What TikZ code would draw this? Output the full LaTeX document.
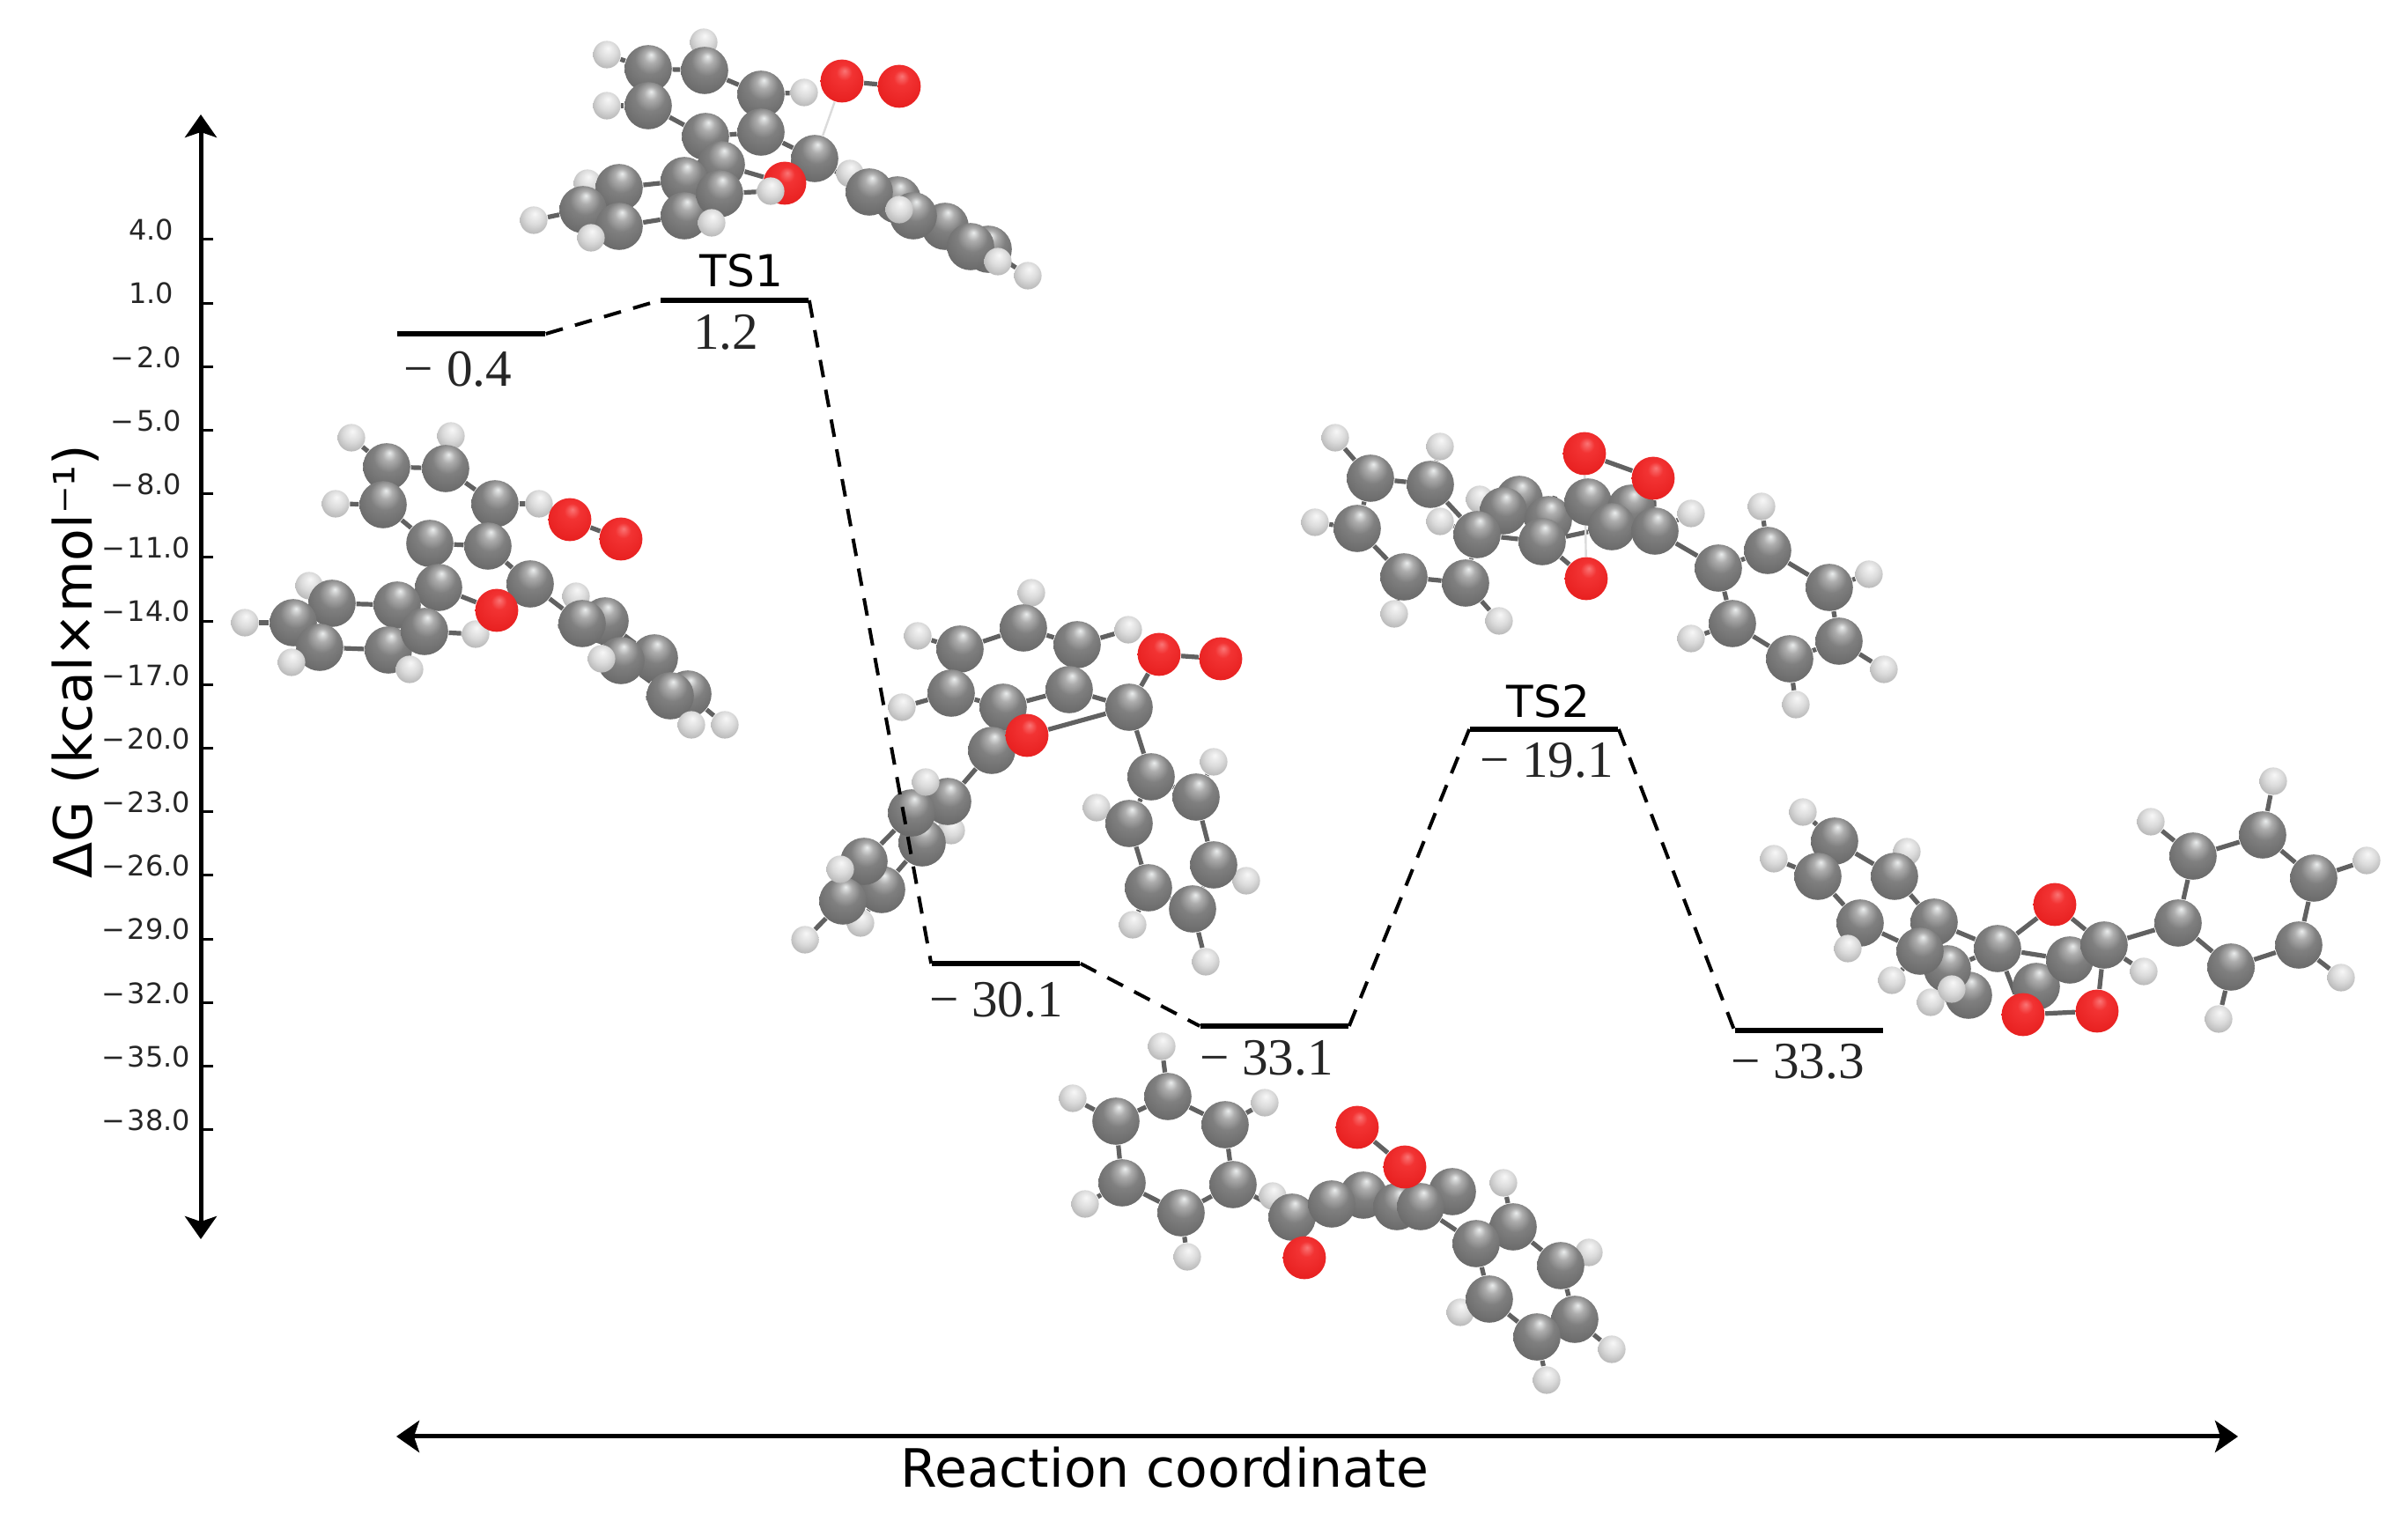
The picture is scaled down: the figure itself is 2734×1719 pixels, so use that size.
\documentclass[tikz,border=0pt]{standalone}
\usepackage{fontspec}
\setmainfont{DejaVu Sans}
\newfontfamily\valfont{Liberation Serif}
\usetikzlibrary{arrows.meta}

\pgfdeclarelayer{bondlayer}
\pgfsetlayers{bondlayer,main}

\pgfdeclareradialshading{carbonball}{\pgfpoint{3bp}{15bp}}{rgb(0bp)=(.92,.93,.93);rgb(7bp)=(.68,.68,.68);rgb(16bp)=(.50,.50,.50);rgb(30bp)=(.42,.42,.42);rgb(42bp)=(.30,.30,.30);rgb(50bp)=(.18,.18,.18)}
\pgfdeclareradialshading{oxygenball}{\pgfpoint{3bp}{12bp}}{rgb(0bp)=(.98,.46,.46);rgb(9bp)=(.95,.20,.20);rgb(34bp)=(.90,.11,.11);rgb(50bp)=(.62,.06,.06)}
\pgfdeclareradialshading{hydrogenball}{\pgfpoint{2bp}{12bp}}{rgb(0bp)=(.97,.97,.97);rgb(16bp)=(.86,.86,.86);rgb(36bp)=(.66,.66,.66);rgb(50bp)=(.42,.42,.42)}

\tikzset{
  catom/.style={circle,inner sep=0pt,minimum size=13.4pt,shade,shading=carbonball},
  oatom/.style={circle,inner sep=0pt,minimum size=12.2pt,shade,shading=oxygenball},
  hatom/.style={circle,inner sep=0pt,minimum size=7.8pt,shade,shading=hydrogenball},
  bondline/.style={line width=1.3pt,color=black!62},
  paleline/.style={line width=.6pt,color=black!14},
  levelbar/.style={rectangle,fill=black,inner sep=0pt,minimum width=42pt,minimum height=1.7pt},
  levellink/.style={line width=1pt,dash pattern=on 5pt off 3.6pt},
  vallabel/.style={inner sep=0pt,font=\valfont\fontsize{14.8}{18}\selectfont,text=black!85},
  tslabel/.style={inner sep=0pt,font=\fontsize{12.5}{15}\selectfont},
  ticklabel/.style={anchor=east,inner sep=0pt,font=\fontsize{8}{10}\selectfont,text=black!85},
  axisline/.style={line width=1.25pt,{Stealth[length=6.5pt,width=9pt,inset=1.5pt]}-{Stealth[length=6.5pt,width=9pt,inset=1.5pt]}},
}

\newcommand{\molatoms}[2]{\foreach \n/\k/\x/\y in {#2} {\node[\k] (#1\n) at (\x,\y) {};}}
\newcommand{\molbonds}[2]{\begin{pgfonlayer}{bondlayer}\foreach \p/\q in {#2} {\draw[bondline] (#1\p) -- (#1\q);}\end{pgfonlayer}}
\newcommand{\molpale}[2]{\begin{pgfonlayer}{bondlayer}\draw[paleline] (#1) -- (#2);\end{pgfonlayer}}

\begin{document}
\begin{tikzpicture}[x=0.25pt,y=0.25pt,yscale=-1,xscale=1]
\useasboundingbox (0,0) rectangle (2734,1719);

%Molecule left of the first level
\molatoms{ra}{h1/hatom/399/497,h2/hatom/512/495,h3/hatom/381/572,h4/hatom/612/572,
  c1/catom/439/530,c2/catom/506/532,c4/catom/435/573,c3/catom/562/572,c5/catom/488/617,c6/catom/554/620,
  c7/catom/602/663,c8/catom/498/667,o1/oatom/647/590,o2/oatom/705/612,
  h5/hatom/351/665,c9/catom/377/685,h6/hatom/278/707,c10/catom/333/707,c12/catom/451/687,c11/catom/363/735,c13/catom/441/738,c14/catom/482/717,h7/hatom/331/752,h8/hatom/465/760,h9/hatom/540/720,o3/oatom/564/693,
  h10/hatom/654/677,c16/catom/687/705,c15/catom/661/708,c18/catom/743/747,c17/catom/705/750,h11/hatom/683/748,c20/catom/781/788,c19/catom/761/790,h13/hatom/823/823,h12/hatom/785/823}
\molbonds{ra}{c1/c2,c2/c3,c3/c6,c6/c5,c5/c4,c4/c1,c1/h1,c2/h2,c4/h3,c3/h4,c6/c7,c5/c8,c8/o3,o3/c7,o1/o2,c8/c12,
  c12/c9,c9/c10,c10/c11,c11/c13,c13/c14,c14/c12,c9/h5,c10/h6,c11/h7,c13/h8,c14/h9,
  c7/c15,c15/c16,c15/c17,c16/c18,c17/c19,c18/c20,c19/c20,c16/h10,c17/h11,c19/h12,c20/h13}

%Molecule of TS1
\molatoms{tb}{h1/hatom/689/62,h2/hatom/799/48,h3/hatom/689/120,h4/hatom/913/105,
  c2/catom/800/80,c1/catom/736/78,c4/catom/736/120,c3/catom/864/107,c6/catom/864/150,c5/catom/801/155,c8/catom/819/187,
  c7/catom/925/180,o1/oatom/956/92,o2/oatom/1021/98,
  h5/hatom/667/208,c9/catom/703/213,h6/hatom/606/250,c10/catom/662/238,c12/catom/777/205,c13/catom/777/245,c11/catom/703/257,c14/catom/817/220,h7/hatom/671/270,h8/hatom/808/253,o3/oatom/891/208,h9/hatom/875/217,
  h10/hatom/965/197,c16/catom/1019/227,c15/catom/987/218,c18/catom/1073/257,c17/catom/1037/245,h11/hatom/1021/238,c20/catom/1122/283,c19/catom/1102/280,h12/hatom/1133/297,h13/hatom/1167/313}
\molbonds{tb}{c1/c2,c2/c3,c3/c6,c6/c5,c5/c4,c4/c1,c1/h1,c2/h2,c4/h3,c3/h4,c6/c7,c5/c8,c8/o3,o3/c7,o1/o2,c8/c12,
  c12/c9,c9/c10,c10/c11,c11/c13,c13/c14,c14/c12,c9/h5,c10/h6,c11/h7,c13/h8,c14/h9,
  c7/c15,c15/c16,c15/c17,c16/c18,c17/c19,c18/c20,c19/c20,c16/h10,c20/h13}
\molpale{tbo1}{tbc7}

%Molecule at the level of 30.1
\molatoms{mc}{h1/hatom/1171/673,h2/hatom/1042/722,h3/hatom/1281/715,h4/hatom/1024/803,
  c1/catom/1090/737,c2/catom/1162/713,c3/catom/1223/732,c4/catom/1080/787,c5/catom/1139/803,c6/catom/1214/783,
  c7/catom/1282/803,c8/catom/1126/852,o1/oatom/1316/743,o2/oatom/1386/748,o3/oatom/1166/835,
  h5/hatom/1378/865,h6/hatom/1245/917,h7/hatom/1415/1000,h8/hatom/1286/1050,h9/hatom/1369/1092,
  c9/catom/1307/882,c10/catom/1358/905,c11/catom/1282/935,c12/catom/1378/982,c13/catom/1304/1008,c14/catom/1354/1032,
  h11/hatom/1080/943,c19/catom/1001/1010,c17/catom/1047/957,c15/catom/1076/910,c16/catom/1035/923,h10/hatom/1051/888,
  c18/catom/981/978,h13/hatom/977/1048,c20/catom/957/1023,h12/hatom/954/987,h14/hatom/914/1067}
\molbonds{mc}{c1/c2,c2/c3,c3/c6,c6/c5,c5/c4,c4/c1,c2/h1,c1/h2,c3/h3,c4/h4,c6/c7,c5/c8,c8/o3,o3/c7,c7/o1,o1/o2,c7/c9,
  c9/c10,c9/c11,c10/c12,c11/c13,c12/c14,c13/c14,c10/h5,c11/h6,c12/h7,c13/h8,c14/h9,
  c8/c15,c15/c16,c15/c17,c16/c18,c17/c19,c18/c20,c19/c20,c16/h10,c17/h11,c18/h12,c19/h13,c20/h14}

%Molecule below the level of 33.1
\molatoms{md}{h1/hatom/1319/1188,h2/hatom/1218/1247,h3/hatom/1436/1252,h4/hatom/1232/1367,h5/hatom/1348/1427,
  c1/catom/1326/1245,c2/catom/1267/1273,c3/catom/1391/1277,c4/catom/1274/1343,c5/catom/1400/1345,c6/catom/1341/1377,
  h11/hatom/1445/1358,c8/catom/1548/1357,c10/catom/1649/1353,c7/catom/1467/1382,c9/catom/1512/1367,c12/catom/1586/1370,c11/catom/1613/1370,
  o3/oatom/1481/1428,o1/oatom/1541/1280,o2/oatom/1595/1325,
  h7/hatom/1804/1422,h8/hatom/1658/1490,h9/hatom/1830/1532,h10/hatom/1756/1567,
  c13/catom/1718/1393,c14/catom/1676/1412,c15/catom/1772/1437,c16/catom/1691/1475,c17/catom/1788/1498,c18/catom/1745/1518,h6/hatom/1707/1343}
\molbonds{md}{c1/c2,c2/c4,c4/c6,c6/c5,c5/c3,c3/c1,c1/h1,c2/h2,c3/h3,c4/h4,c6/h5,c5/c7,c7/c9,c7/o3,c7/h11,c9/c8,c9/c12,c12/c11,c11/c10,o1/o2,c11/c14,
  c13/c14,c14/c16,c16/c18,c18/c17,c17/c15,c15/c13,c13/h6,c15/h7,c16/h8,c17/h9,c18/h10}

%Molecule of TS2
\molatoms{te}{h1/hatom/1516/497,h2/hatom/1635/507,h3/hatom/1493/593,h4/hatom/1583/697,h5/hatom/1702/705,h6/hatom/1635/592,h7/hatom/1680/567,h8/hatom/1920/583,
  c1/catom/1556/543,c2/catom/1624/550,c3/catom/1541/600,c5/catom/1594/655,c6/catom/1664/662,
  c8/catom/1725/567,c7/catom/1707/580,c4/catom/1677/607,c9/catom/1758/590,c11/catom/1751/615,c10/catom/1803/570,c13/catom/1852/577,c12/catom/1830/598,c14/catom/1879/603,
  o1/oatom/1799/515,o2/oatom/1877/543,o3/oatom/1801/657,
  h9/hatom/2000/575,h10/hatom/2122/652,h11/hatom/1920/725,h12/hatom/2139/760,h13/hatom/2039/800,
  c15/catom/1951/645,c16/catom/2007/625,c17/catom/1967/708,c18/catom/2077/667,c19/catom/2032/748,c20/catom/2088/728}
\molbonds{te}{c1/c2,c1/c3,c2/c4,c3/c5,c4/c6,c5/c6,c1/h1,c2/h2,c3/h3,c5/h4,c6/h5,c4/h6,c7/h7,c4/c11,c4/c7,c7/c8,c8/c9,c9/c11,c11/c12,c12/c13,c12/c14,c14/o2,o1/o2,c11/o3,c14/h8,c14/c15,
  c15/c16,c15/c17,c16/c18,c17/c19,c18/c20,c19/c20,c16/h9,c18/h10,c17/h11,c20/h12,c19/h13}
\molpale{teo1}{teo3}

%Molecule right of the last level
\molatoms{pf}{h1/hatom/2047/922,h2/hatom/2014/975,h3/hatom/2165/967,
  c1/catom/2083/955,c2/catom/2064/995,c3/catom/2151/995,h6/hatom/2192/1138,h5/hatom/2148/1113,c8/catom/2235/1130,c7/catom/2211/1100,c4/catom/2112/1048,h4/hatom/2098/1077,c5/catom/2196/1047,c6/catom/2180/1080,h7/hatom/2216/1123,
  c12/catom/2312/1120,c11/catom/2350/1090,c9/catom/2268/1077,c10/catom/2389/1073,h8/hatom/2434/1103,
  o1/oatom/2333/1027,o2/oatom/2297/1152,o3/oatom/2381/1148,
  h10/hatom/2581/887,h11/hatom/2442/933,h12/hatom/2687/977,h13/hatom/2658/1110,h14/hatom/2519/1157,
  c13/catom/2473/1048,c14/catom/2490/972,c15/catom/2569/948,c16/catom/2627/997,c17/catom/2610/1073,c18/catom/2533/1098}
\molbonds{pf}{c1/c2,c2/c4,c4/c6,c6/c5,c5/c3,c3/c1,c1/h1,c2/h2,c3/h3,c4/h4,c6/h5,c5/c9,c9/c7,c7/c8,c8/h6,c9/o1,o1/c10,c9/o2,c10/o3,o2/o3,c9/c11,c10/h8,c10/c13,
  c13/c14,c14/c15,c15/c16,c16/c17,c17/c18,c18/c13,c15/h10,c14/h11,c16/h12,c17/h13,c18/h14}

%Levels
\node[levelbar] (lvlstart) at (535,379) {};
\node[levelbar] (lvltsa) at (834,341) {};
\node[levelbar] (lvlmc) at (1142,1094) {};
\node[levelbar] (lvlmd) at (1447,1165) {};
\node[levelbar] (lvltsb) at (1753,828) {};
\node[levelbar] (lvlend) at (2054,1170) {};

%Links between the levels
\draw[levellink] (lvlstart.east) -- (lvltsa.west);
\draw[levellink] (lvltsa.east) -- (lvlmc.west);
\draw[levellink] (lvlmc.east) -- (lvlmd.west);
\draw[levellink] (lvlmd.east) -- (lvltsb.west);
\draw[levellink] (lvltsb.east) -- (lvlend.west);

%Text of the levels
\node[vallabel] (valstart) at (520,419) {− 0.4};
\node[vallabel] (valtsa) at (824,377) {1.2};
\node[vallabel] (valmc) at (1131,1135) {− 30.1};
\node[vallabel] (valmd) at (1438,1201) {− 33.1};
\node[vallabel] (valtsb) at (1756,863) {− 19.1};
\node[vallabel] (valend) at (2041,1205) {− 33.3};
\node[tslabel] (namea) at (842,307) {TS1};
\node[tslabel] (nameb) at (1758,796) {TS2};

%Vertical axis
\coordinate (ytop) at (228,130);
\coordinate (ybot) at (228,1407);
\draw[axisline] (ytop) -- (ybot);
\foreach \lab/\rgt [count=\i from 0] in {4.0/198,1.0/198,−\kern.7pt2.0/207,−\kern.7pt5.0/207,−\kern.7pt8.0/207,−\kern.7pt11.0/217,−\kern.7pt14.0/217,−\kern.7pt17.0/217,−\kern.7pt20.0/217,−\kern.7pt23.0/217,−\kern.7pt26.0/217,−\kern.7pt29.0/217,−\kern.7pt32.0/217,−\kern.7pt35.0/217,−\kern.7pt38.0/217} {
  \coordinate (tick\i) at (228,272+\i*72.2);
  \draw[line width=.75pt] (tick\i) -- ++(14,0);
  \node[ticklabel] (ticklab\i) at (\rgt,261+\i*72.2) {\lab};
}
\node[rotate=90,inner sep=0pt,font=\fontsize{15}{18}\selectfont] (ylabel) at (86,751) {ΔG (kcal×mol⁻¹)};

%Horizontal axis
\coordinate (xleft) at (450,1631);
\coordinate (xright) at (2541,1631);
\draw[axisline] (xleft) -- (xright);
\node[inner sep=0pt,font=\fontsize{15}{18}\selectfont] (xlabel) at (1322,1666) {Reaction coordinate};

\end{tikzpicture}
\end{document}
